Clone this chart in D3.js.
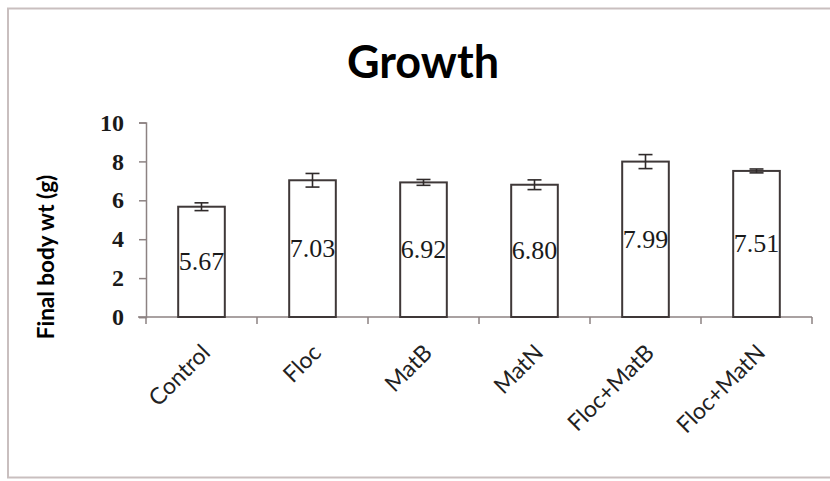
<!DOCTYPE html>
<html>
<head>
<meta charset="utf-8">
<script src="https://cdn.jsdelivr.net/npm/d3@7"></script>
<style>
  html, body { margin: 0; padding: 0; background: #fff; }
  svg { display: block; }
</style>
</head>
<body>
<svg id="chart" width="830" height="481"></svg>
<script>
// Final body weight per treatment, with standard error
const categories = ["Control", "Floc", "MatB", "MatN", "Floc+MatB", "Floc+MatN"];
const weights = [5.67, 7.03, 6.92, 6.80, 7.99, 7.51];
const errors = [0.20, 0.35, 0.15, 0.25, 0.36, 0.10];
const yTicks = [0, 2, 4, 6, 8, 10];

const svg = d3.select("#chart");

// Outer chart frame
svg.append("rect")
  .attr("x", 8).attr("y", 8.5)
  .attr("width", 900).attr("height", 469)
  .attr("fill", "none")
  .attr("stroke", "#c9bfbf")
  .attr("stroke-width", 2);

const plot = { left: 146, right: 812, top: 122.5, bottom: 317 };

const x = d3.scaleBand()
  .domain(categories)
  .range([plot.left, plot.right])
  .paddingInner(0.58)
  .paddingOuter(0.29);

const band = d3.scaleBand()
  .domain(categories)
  .range([plot.left, plot.right]);

const y = d3.scaleLinear()
  .domain([0, 10])
  .range([plot.bottom, plot.top]);

// Title
svg.append("text")
  .attr("x", 423).attr("y", 78)
  .attr("text-anchor", "middle")
  .attr("font-family", "Lato, 'Open Sans', sans-serif")
  .attr("font-weight", "bold")
  .attr("font-size", 45)
  .attr("fill", "#000")
  .text("Growth");

// Y axis
const yAxis = svg.append("g")
  .attr("transform", `translate(${plot.left},0)`)
  .call(d3.axisLeft(y).tickValues(yTicks).tickSize(7).tickPadding(15).tickFormat(d3.format("d")));
yAxis.select(".domain").attr("stroke", "#8c8282").attr("stroke-width", 1.5);
yAxis.selectAll(".tick line").attr("stroke", "#8c8282").attr("stroke-width", 1.5);
yAxis.selectAll(".tick text")
  .attr("font-family", "'Liberation Serif', 'DejaVu Serif', serif")
  .attr("font-weight", "bold")
  .attr("font-size", 24)
  .attr("fill", "#1a1a1a");

// Y axis title
svg.append("text")
  .attr("transform", `translate(45,${257}) rotate(-90)`)
  .attr("text-anchor", "middle")
  .attr("dominant-baseline", "central")
  .attr("font-family", "Lato, 'Open Sans', sans-serif")
  .attr("font-weight", "bold")
  .attr("font-size", 22.5)
  .attr("fill", "#000")
  .text("Final body wt (g)");

// X axis with ticks at category boundaries
const xAxisG = svg.append("g").attr("transform", `translate(0,${plot.bottom})`);
xAxisG.append("line")
  .attr("x1", plot.left - 8).attr("x2", plot.right)
  .attr("y1", 0).attr("y2", 0)
  .attr("stroke", "#8c8282").attr("stroke-width", 1.5);
const boundaries = categories.map(c => band(c)).concat([plot.right]);
xAxisG.selectAll("line.b")
  .data(boundaries)
  .join("line")
  .attr("class", "b")
  .attr("x1", d => d).attr("x2", d => d)
  .attr("y1", 0).attr("y2", 7)
  .attr("stroke", "#8c8282").attr("stroke-width", 1.5);

// Category labels, rotated
xAxisG.selectAll("text.cat")
  .data(categories)
  .join("text")
  .attr("class", "cat")
  .attr("transform", d => `translate(${x(d) + x.bandwidth() / 2 + 6},${33}) rotate(-45)`)
  .attr("text-anchor", "end")
  .attr("dominant-baseline", "middle")
  .attr("font-family", "Lato, 'Open Sans', sans-serif")
  .attr("font-size", 23)
  .attr("fill", "#222")
  .text(d => d);

const data = categories.map((c, i) => ({ c, v: weights[i], e: errors[i] }));

// Bars
svg.selectAll("rect.bar")
  .data(data)
  .join("rect")
  .attr("class", "bar")
  .attr("x", d => x(d.c))
  .attr("y", d => y(d.v))
  .attr("width", x.bandwidth())
  .attr("height", d => y(0) - y(d.v))
  .attr("fill", "#fff")
  .attr("stroke", "#3f3838")
  .attr("stroke-width", 2);

// Error bars
const eb = svg.selectAll("g.err").data(data).join("g").attr("class", "err")
  .attr("stroke", "#2f2a2a").attr("stroke-width", 1.6);
eb.append("line")
  .attr("x1", d => x(d.c) + x.bandwidth() / 2).attr("x2", d => x(d.c) + x.bandwidth() / 2)
  .attr("y1", d => y(d.v + d.e)).attr("y2", d => y(d.v - d.e));
eb.append("line")
  .attr("x1", d => x(d.c) + x.bandwidth() / 2 - 7).attr("x2", d => x(d.c) + x.bandwidth() / 2 + 7)
  .attr("y1", d => y(d.v + d.e)).attr("y2", d => y(d.v + d.e));
eb.append("line")
  .attr("x1", d => x(d.c) + x.bandwidth() / 2 - 7).attr("x2", d => x(d.c) + x.bandwidth() / 2 + 7)
  .attr("y1", d => y(d.v - d.e)).attr("y2", d => y(d.v - d.e));

// Value labels centered in each bar
svg.selectAll("text.val")
  .data(data)
  .join("text")
  .attr("class", "val")
  .attr("x", d => x(d.c) + x.bandwidth() / 2)
  .attr("y", d => y(d.v / 2))
  .attr("text-anchor", "middle")
  .attr("dominant-baseline", "central")
  .attr("font-family", "'Liberation Serif', 'DejaVu Serif', serif")
  .attr("font-size", 26)
  .attr("fill", "#1a1a1a")
  .text(d => d.v.toFixed(2));
</script>
</body>
</html>
